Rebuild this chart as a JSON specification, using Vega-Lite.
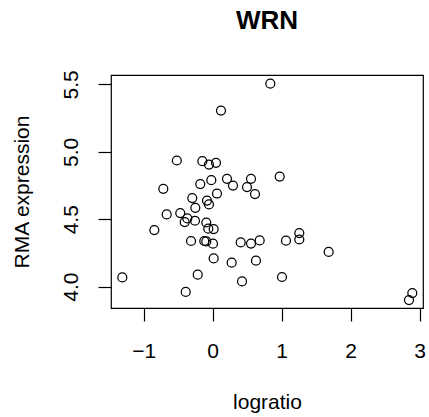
{
  "$schema": "https://vega.github.io/schema/vega-lite/v6.json",
  "width": 312,
  "height": 233,
  "autosize": {"type": "none"},
  "padding": {"left": 111, "top": 75, "right": 6, "bottom": 109},
  "background": "white",
  "title": {
    "text": "WRN",
    "font": "Liberation Sans",
    "fontSize": 26,
    "fontWeight": "bold",
    "color": "black",
    "anchor": "middle",
    "frame": "group",
    "offset": 36
  },
  "config": {
    "view": {"stroke": "black", "strokeWidth": 1.2},
    "font": "Liberation Sans"
  },
  "data": {
    "values": [
      {"logratio": 0.835, "rma": 5.506},
      {"logratio": 0.12, "rma": 5.306},
      {"logratio": -0.52, "rma": 4.936},
      {"logratio": -0.15, "rma": 4.931},
      {"logratio": -0.054, "rma": 4.906},
      {"logratio": 0.048, "rma": 4.919},
      {"logratio": 0.971, "rma": 4.817},
      {"logratio": -0.02, "rma": 4.79},
      {"logratio": -0.18, "rma": 4.761},
      {"logratio": 0.207, "rma": 4.8},
      {"logratio": 0.294, "rma": 4.75},
      {"logratio": 0.555, "rma": 4.8},
      {"logratio": 0.497, "rma": 4.739},
      {"logratio": 0.613, "rma": 4.687},
      {"logratio": -0.716, "rma": 4.726},
      {"logratio": 0.062, "rma": 4.691},
      {"logratio": -0.296, "rma": 4.657},
      {"logratio": -0.083, "rma": 4.639},
      {"logratio": -0.054, "rma": 4.61},
      {"logratio": -0.252, "rma": 4.585},
      {"logratio": -0.667, "rma": 4.536},
      {"logratio": -0.47, "rma": 4.546},
      {"logratio": -0.368, "rma": 4.506},
      {"logratio": -0.406, "rma": 4.479},
      {"logratio": -0.257, "rma": 4.489},
      {"logratio": -0.093, "rma": 4.476},
      {"logratio": -0.846, "rma": 4.42},
      {"logratio": -0.064, "rma": 4.43},
      {"logratio": 0.014, "rma": 4.427},
      {"logratio": -0.314, "rma": 4.339},
      {"logratio": -0.122, "rma": 4.339},
      {"logratio": -0.093, "rma": 4.336},
      {"logratio": 0.004, "rma": 4.319},
      {"logratio": 0.406, "rma": 4.328},
      {"logratio": 0.555, "rma": 4.32},
      {"logratio": 0.681, "rma": 4.343},
      {"logratio": 1.062, "rma": 4.341},
      {"logratio": 1.255, "rma": 4.398},
      {"logratio": 1.255, "rma": 4.35},
      {"logratio": 1.681, "rma": 4.258},
      {"logratio": 1.004, "rma": 4.072},
      {"logratio": 2.893, "rma": 3.953},
      {"logratio": 2.845, "rma": 3.901},
      {"logratio": 0.014, "rma": 4.21},
      {"logratio": 0.275, "rma": 4.178},
      {"logratio": 0.627, "rma": 4.193},
      {"logratio": -1.31, "rma": 4.069},
      {"logratio": -0.217, "rma": 4.089},
      {"logratio": 0.425, "rma": 4.039},
      {"logratio": -0.391, "rma": 3.961}
    ]
  },
  "mark": {"type": "point", "shape": "circle", "filled": false, "color": "black", "size": 80, "strokeWidth": 1.25, "opacity": 1},
  "encoding": {
    "x": {
      "field": "logratio",
      "type": "quantitative",
      "scale": {"domain": [-1.474, 3.048], "nice": false, "zero": false},
      "axis": {
        "title": "logratio",
        "values": [-1, 0, 1, 2, 3],
        "format": "d",
        "grid": false,
        "domain": false,
        "ticks": true,
        "tickSize": 13,
        "tickColor": "black",
        "tickWidth": 1.2,
        "labelFont": "Liberation Sans",
        "labelFontSize": 21,
        "labelColor": "black",
        "labelBaseline": "alphabetic",
        "labelPadding": 36,
        "labelFlush": false,
        "labelOverlap": false,
        "titleFont": "Liberation Sans",
        "titleFontSize": 21,
        "titleFontWeight": "normal",
        "titleColor": "black",
        "titleBaseline": "alphabetic",
        "titleY": 100
      }
    },
    "y": {
      "field": "rma",
      "type": "quantitative",
      "scale": {"domain": [3.842, 5.57], "nice": false, "zero": false},
      "axis": {
        "title": "RMA expression",
        "values": [4.0, 4.5, 5.0, 5.5],
        "format": ".1f",
        "grid": false,
        "domain": false,
        "ticks": true,
        "tickSize": 13,
        "tickColor": "black",
        "tickWidth": 1.2,
        "labelFont": "Liberation Sans",
        "labelFontSize": 21,
        "labelColor": "black",
        "labelAngle": 270,
        "labelAlign": "center",
        "labelBaseline": "alphabetic",
        "labelPadding": 21,
        "labelFlush": false,
        "labelOverlap": false,
        "titleFont": "Liberation Sans",
        "titleFontSize": 21,
        "titleFontWeight": "normal",
        "titleColor": "black",
        "titleAngle": 270,
        "titleBaseline": "alphabetic",
        "titleX": -83
      }
    }
  }
}
